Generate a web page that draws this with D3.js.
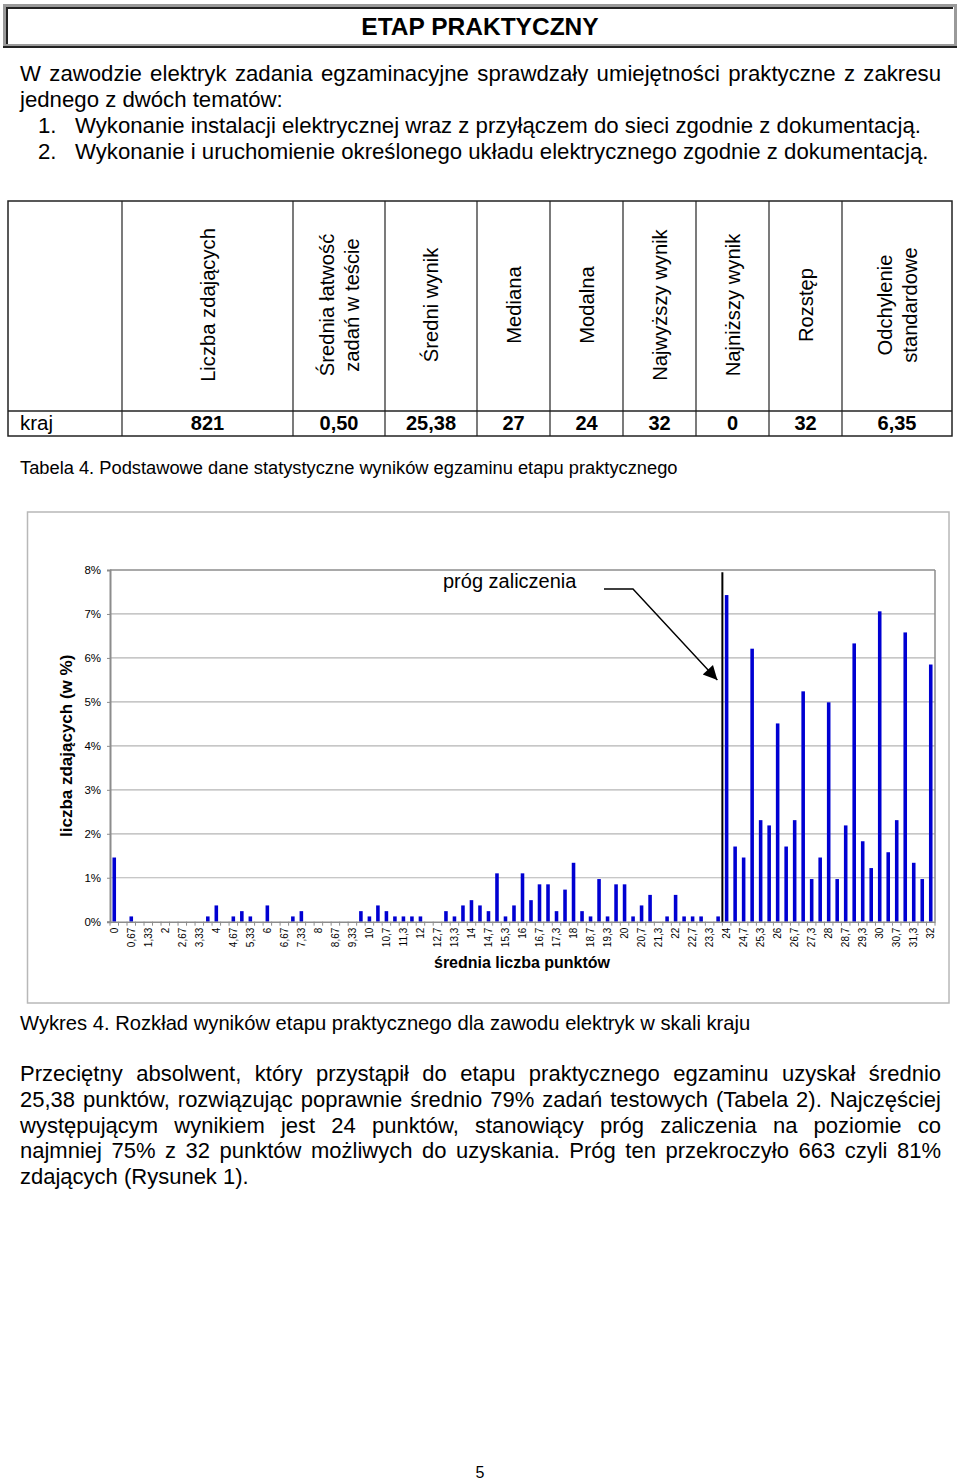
<!DOCTYPE html>
<html><head><meta charset="utf-8">
<script src="https://cdn.jsdelivr.net/npm/d3@7/dist/d3.min.js"></script>
<style>
body{margin:0;background:#fff}
svg{display:block;font-family:"Liberation Sans",Arial,Helvetica,sans-serif}
</style>
</head><body>
<svg id="page" width="960" height="1483"></svg>
<script>
// ---------------- DATA ----------------
const categories = ["0","0,33","0,67","1","1,33","1,67","2","2,33","2,67","3","3,33","3,67","4","4,33","4,67","5","5,33","5,67","6","6,33","6,67","7","7,33","7,67","8","8,33","8,67","9","9,33","9,67","10","10,3","10,7","11","11,3","11,7","12","12,3","12,7","13","13,3","13,7","14","14,3","14,7","15","15,3","15,7","16","16,3","16,7","17","17,3","17,7","18","18,3","18,7","19","19,3","19,7","20","20,3","20,7","21","21,3","21,7","22","22,3","22,7","23","23,3","23,7","24","24,3","24,7","25","25,3","25,7","26","26,3","26,7","27","27,3","27,7","28","28,3","28,7","29","29,3","29,7","30","30,3","30,7","31","31,3","31,7","32"];
// percent of candidates
const values = [1.46,0,0.12,0,0,0,0,0,0,0,0,0.12,0.37,0,0.12,0.24,0.12,0,0.37,0,0,0.12,0.24,0,0,0,0,0,0,0.24,0.12,0.37,0.24,0.12,0.12,0.12,0.12,0,0,0.24,0.12,0.37,0.49,0.37,0.24,1.10,0.12,0.37,1.10,0.49,0.85,0.85,0.24,0.73,1.34,0.24,0.12,0.97,0.12,0.85,0.85,0.12,0.37,0.61,0,0.12,0.61,0.12,0.12,0.12,0,0.12,7.43,1.71,1.46,6.21,2.31,2.19,4.51,1.71,2.31,5.24,0.97,1.46,4.99,0.97,2.19,6.33,1.83,1.22,7.06,1.58,2.31,6.58,1.34,0.97,5.85];
const xTickLabels = ["0","0,67","1,33","2","2,67","3,33","4","4,67","5,33","6","6,67","7,33","8","8,67","9,33","10","10,7","11,3","12","12,7","13,3","14","14,7","15,3","16","16,7","17,3","18","18,7","19,3","20","20,7","21,3","22","22,7","23,3","24","24,7","25,3","26","26,7","27,3","28","28,7","29,3","30","30,7","31,3","32"];
const yTicks = [0,1,2,3,4,5,6,7,8];
const thresholdCategory = "24";

const tableHeaders = [[""],["Liczba zdających"],["Średnia łatwość","zadań w teście"],["Średni wynik"],["Mediana"],["Modalna"],["Najwyższy wynik"],["Najniższy wynik"],["Rozstęp"],["Odchylenie","standardowe"]];
const tableRow = ["kraj","821","0,50","25,38","27","24","32","0","32","6,35"];

const pageTitle = "ETAP PRAKTYCZNY";
const introLines = ["W zawodzie elektryk zadania egzaminacyjne sprawdzały umiejętności praktyczne z zakresu","jednego z dwóch tematów:"];
const listItems = ["Wykonanie instalacji elektrycznej wraz z przyłączem do sieci zgodnie z dokumentacją.","Wykonanie i uruchomienie określonego układu elektrycznego zgodnie z dokumentacją."];
const tableCaption = "Tabela 4. Podstawowe dane statystyczne wyników egzaminu etapu praktycznego";
const chartCaption = "Wykres 4. Rozkład wyników etapu praktycznego dla zawodu elektryk w skali kraju";
const bodyLines = ["Przeciętny absolwent, który przystąpił do etapu praktycznego egzaminu uzyskał średnio","25,38 punktów, rozwiązując poprawnie średnio 79% zadań testowych (Tabela 2). Najczęściej","występującym wynikiem jest 24 punktów, stanowiący próg zaliczenia na poziomie co","najmniej 75% z 32 punktów możliwych do uzyskania. Próg ten przekroczyło 663 czyli 81%","zdających (Rysunek 1)."];
const yTitle = "liczba zdających (w %)";
const xTitle = "średnia liczba punktów";
const annotation = "próg zaliczenia";
const pageNumber = "5";

// ---------------- DRAW ----------------
const svg = d3.select("#page");

function justifiedLine(g, text, x0, x1, y, size, justify){
  const words = text.split(" ");
  const nodes = words.map(w => g.append("text").attr("y", y).attr("font-size", size).attr("fill","#000").text(w));
  const widths = nodes.map(n => n.node().getComputedTextLength());
  const total = d3.sum(widths);
  const space = size*0.278;
  let gap = justify && words.length>1 ? (x1-x0-total)/(words.length-1) : space;
  let x = x0;
  nodes.forEach((n,i)=>{ n.attr("x", x); x += widths[i] + gap; });
}

// title box
svg.append("rect").attr("x",4.5).attr("y",5.5).attr("width",951).attr("height",40).attr("fill","#fff").attr("stroke","#9a9a9a").attr("stroke-width",3);
svg.append("path").attr("d","M7,44 V8 H953").attr("fill","none").attr("stroke","#222").attr("stroke-width",2);
svg.append("path").attr("d","M3,47 H957").attr("fill","none").attr("stroke","#222").attr("stroke-width",2);
svg.append("text").attr("x",480).attr("y",35).attr("text-anchor","middle").attr("font-size",24.5).attr("font-weight","bold").text(pageTitle);

// intro
const FS = 22.2;
const intro = svg.append("g");
justifiedLine(intro, introLines[0], 20, 941, 81, FS, true);
justifiedLine(intro, introLines[1], 20, 941, 107, FS, false);
listItems.forEach((t,i)=>{
  intro.append("text").attr("x",38).attr("y",133+26*i).attr("font-size",FS).text((i+1)+".");
  justifiedLine(intro, t, 75, 941, 133+26*i, FS, false);
});

// table
const cols = [8,122,293,385,477,550,623,696,769,842,952];
const tTop = 201, tMid = 411, tBot = 436;
const tg = svg.append("g");
tg.append("rect").attr("x",cols[0]).attr("y",tTop).attr("width",cols[10]-cols[0]).attr("height",tBot-tTop).attr("fill","none").attr("stroke","#222").attr("stroke-width",1.5);
tg.append("line").attr("x1",cols[0]).attr("x2",cols[10]).attr("y1",tMid).attr("y2",tMid).attr("stroke","#222").attr("stroke-width",1.5);
cols.slice(1,-1).forEach(c=>tg.append("line").attr("x1",c).attr("x2",c).attr("y1",tTop).attr("y2",tBot).attr("stroke","#222").attr("stroke-width",1.2));
tableHeaders.forEach((lines,i)=>{
  if(i===0) return;
  const cx = (cols[i]+cols[i+1])/2;
  lines.forEach((ln,j)=>{
    const off = (j-(lines.length-1)/2)*25;
    tg.append("text").attr("transform",`translate(${cx+off},305) rotate(-90)`)
      .attr("text-anchor","middle").attr("dy","0.36em").attr("font-size",20.2).text(ln);
  });
});
tableRow.forEach((v,i)=>{
  if(i===0){ tg.append("text").attr("x",20).attr("y",430).attr("font-size",20.5).text(v); return; }
  const cx = (cols[i]+cols[i+1])/2;
  tg.append("text").attr("x",cx).attr("y",430).attr("text-anchor","middle").attr("font-size",20).attr("font-weight","bold").text(v);
});
svg.append("text").attr("x",20).attr("y",474).attr("font-size",18.3).text(tableCaption);

// chart frame
svg.append("rect").attr("x",27.5).attr("y",512).attr("width",921.5).attr("height",491).attr("fill","#fff").attr("stroke","#b8b8b8").attr("stroke-width",1.5);

const plot = {left:110, right:935, top:570, bottom:921.7};
const x = d3.scaleBand().domain(categories).range([plot.left, plot.right]).paddingInner(0).paddingOuter(0);
const y = d3.scaleLinear().domain([0,8]).range([plot.bottom, plot.top]);
const cg = svg.append("g");

// gridlines
cg.selectAll("line.grid").data(yTicks.filter(t=>t>0 && t<8)).join("line")
  .attr("x1",plot.left).attr("x2",plot.right).attr("y1",d=>y(d)).attr("y2",d=>y(d))
  .attr("stroke","#b4b4b4").attr("stroke-width",1.2);
// plot top & right border
cg.append("line").attr("x1",plot.left).attr("x2",plot.right).attr("y1",y(8)).attr("y2",y(8)).attr("stroke","#8c8c8c").attr("stroke-width",1.5);
cg.append("line").attr("x1",plot.right).attr("x2",plot.right).attr("y1",y(8)).attr("y2",y(0)).attr("stroke","#8c8c8c").attr("stroke-width",1.5);

// bars
const barW = x.bandwidth()*0.42;
cg.selectAll("rect.bar").data(values.map((v,i)=>({c:categories[i],v}))).join("rect")
  .attr("x",d=>x(d.c)+(x.bandwidth()-barW)/2).attr("width",barW)
  .attr("y",d=>y(d.v)).attr("height",d=>y(0)-y(d.v)).attr("fill","#0000d2");

// y axis
const yAxis = cg.append("g").attr("transform",`translate(${plot.left},0)`)
  .call(d3.axisLeft(y).tickValues(yTicks).tickSize(3).tickPadding(6).tickFormat(d=>d+"%"));
yAxis.select(".domain").attr("stroke","#8c8c8c").attr("stroke-width",2);
yAxis.selectAll(".tick line").attr("stroke","#8c8c8c");
yAxis.selectAll(".tick text").attr("font-size",11.5).attr("font-family",'"Liberation Sans",Arial,sans-serif').attr("fill","#000");

// x axis
const xAxis = cg.append("g").attr("transform",`translate(0,${plot.bottom})`)
  .call(d3.axisBottom(x).tickValues(xTickLabels).tickSize(0).tickPadding(0));
xAxis.select(".domain").attr("stroke","#8c8c8c").attr("stroke-width",1.5);
xAxis.selectAll(".tick text").attr("font-size",10).attr("font-family",'"Liberation Sans",Arial,sans-serif').attr("fill","#000")
  .attr("transform","rotate(-90)").attr("text-anchor","end").attr("x",-6).attr("y",0).attr("dy","0.35em");
// minor ticks at category boundaries
cg.selectAll("line.mtick").data(categories.concat(["__end"])).join("line")
  .attr("x1",d=>d==="__end"?plot.right:x(d)).attr("x2",d=>d==="__end"?plot.right:x(d))
  .attr("y1",plot.bottom).attr("y2",plot.bottom+4).attr("stroke","#8c8c8c").attr("stroke-width",1);

// threshold line
cg.append("line").attr("x1",x(thresholdCategory)).attr("x2",x(thresholdCategory))
  .attr("y1",y(7.95)).attr("y2",y(0)).attr("stroke","#000").attr("stroke-width",2);

// annotation + arrow
svg.append("defs").append("marker").attr("id","ah").attr("viewBox","0 0 10 10").attr("refX",10).attr("refY",5)
  .attr("markerWidth",20).attr("markerHeight",14).attr("markerUnits","userSpaceOnUse").attr("orient","auto")
  .append("path").attr("d","M0,0 L10,5 L0,10 z").attr("fill","#000");
cg.append("text").attr("x",443).attr("y",588).attr("font-size",20).text(annotation);
cg.append("path").attr("d",`M604,589 H633 L${x(thresholdCategory)-5},${y(5.5)}`).attr("fill","none")
  .attr("stroke","#000").attr("stroke-width",1.4).attr("marker-end","url(#ah)");

// axis titles
cg.append("text").attr("transform",`translate(72,${(plot.top+plot.bottom)/2}) rotate(-90)`).attr("text-anchor","middle")
  .attr("font-size",17).attr("font-weight","bold").text(yTitle);
cg.append("text").attr("x",522).attr("y",968).attr("text-anchor","middle").attr("font-size",16).attr("font-weight","bold").text(xTitle);

// captions and body
svg.append("text").attr("x",20).attr("y",1030).attr("font-size",20.2).text(chartCaption);
const body = svg.append("g");
bodyLines.forEach((ln,i)=>justifiedLine(body, ln, 20, 941, 1081+25.8*i, 22, i<bodyLines.length-1));
svg.append("text").attr("x",480).attr("y",1478).attr("text-anchor","middle").attr("font-size",16).text(pageNumber);
</script>
</body></html>
